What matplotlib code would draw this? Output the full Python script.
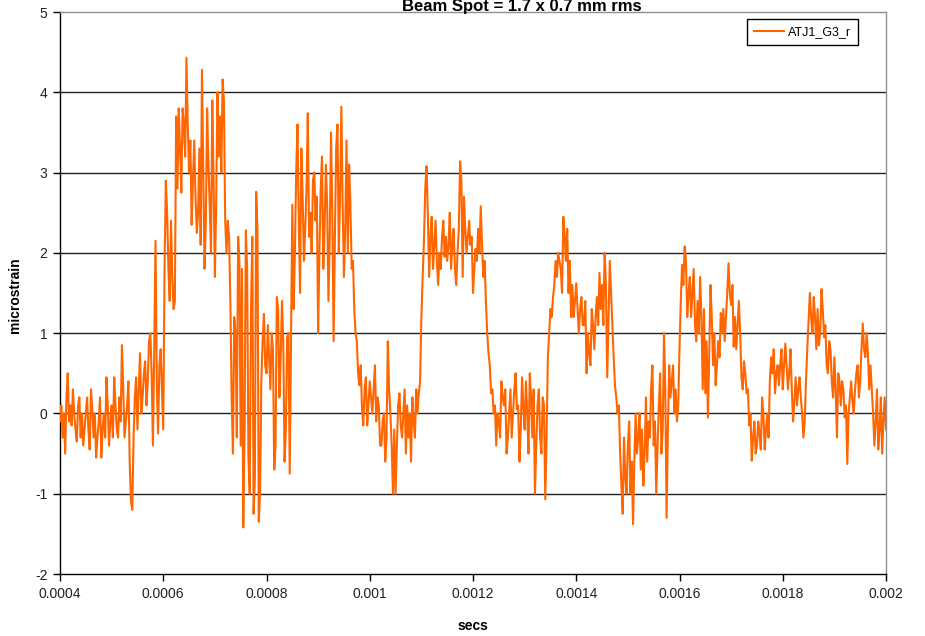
import numpy as np
import matplotlib
matplotlib.use("Agg")
import matplotlib.pyplot as plt
from matplotlib.ticker import FixedLocator, FixedFormatter

plt.rcParams['font.family'] = ['Liberation Sans', 'DejaVu Sans']

# ---- data ----
t_start = 0.0004     # secs, first sample
t_step = 2.5e-6      # secs between consecutive samples

# samples at even positions (every 5e-6 s)
seg1 = [-0.1, -0.3, -0.5, 0.5, 0.1, 0.3, -0.2, 0.1, -0.3, -0.4,
        0.0, -0.2, 0.3, -0.3, -0.55, -0.1, -0.55, 0.0, 0.45, -0.4,
        0.1, 0.45, -0.2, 0.2, 0.85, -0.3, 0.1, -0.6, -1.2, 0.2,
        -0.2, 0.75, 0.2, 0.65, 0.4, 1.0, -0.4, 2.15, -0.25, 0.8,
        -0.2, 2.9, 1.8, 2.4, 1.3, 3.7, 3.8, 2.75, 3.6, 4.43,
        3.0, 2.35, 3.4, 2.25, 3.3, 4.28, 1.8, 3.8, 2.6, 3.9,
        1.7, 4.0, 3.7, 4.16, 2.4, 2.4]
seg2 = [1.4, -0.5, 1.0, 2.2, -0.4, -1.42, 2.28, -0.55, 1.3, -1.25,
        2.76, -1.35, 0.4, 1.24, 0.5, 0.7, 1.0, -0.7, 1.45, 0.2,
        1.4, -0.6, 0.95, -0.75, 2.6, 2.0, 3.6, 1.5, 2.7, 2.3,
        3.74, 2.5, 2.9, 2.4, 1.0, 2.8, 1.8, 3.1, 1.4, 3.5,
        0.9, 3.3, 2.0, 3.82, 1.7, 3.4, 3.1, 1.8, 1.3, 0.9,
        0.35, 0.05, 0.3, -0.15, 0.4, 0.0, 0.6, 0.2, -0.4, -0.1,
        -0.6, 0.9, 0.0, -1.0]
seg3 = [-1.0, 0.1, -0.15, 0.0, -0.5, -0.3, -0.6, -0.1, 0.3, 0.25,
        1.2, 2.15, 3.08, 1.7, 2.45, 2.1, 1.9, 2.0, 2.2, 1.95,
        1.9, 2.5, 2.1, 1.8, 2.0, 3.14, 1.7, 2.3, 2.2, 2.1,
        1.5, 2.05, 2.3, 2.58, 1.7, 1.4, 0.75, 0.25, 0.0, -0.4,
        -0.1, 0.4, 0.1, -0.5, 0.0, -0.3, 0.3, 0.05, -0.6, 0.45,
        -0.2, 0.0, 0.5, -0.3, -1.0, 0.1, -0.3, 0.2, -1.07, 0.7,
        1.3, 1.45, 1.9, 2.0, 1.8]
seg4 = [2.45, 1.9, 1.5, 1.2, 1.2, 1.62, 1.0, 1.45, 1.1, 0.5,
        0.75, 1.3, 0.8, 1.45, 1.75, 1.6, 2.0, 0.45, 1.9, 1.1,
        0.35, 0.0, -0.5, -1.25, -0.8, -0.4, -1.0, -1.38, 0.0, -0.3,
        -0.7, -0.9, 0.2, -0.1, 0.3, -0.4, -1.0, 0.1, -0.5, 1.0,
        -1.3, 0.6, 0.4, 0.0, -0.1, 0.8, 1.85, 2.08, 1.2, 1.7,
        1.5, 1.1, 1.4, 1.7, 0.3, 0.25, -0.05, 1.6, 0.6, 0.35,
        0.9, 1.25, 1.3]
seg5 = [1.2, 1.87, 1.35, 0.83, 0.8, 1.4, 0.45, 0.65, 0.25, -0.15,
        -0.59, -0.1, -0.4, -0.25, 0.2, -0.45, 0.0, 0.4, 0.5, 0.25,
        0.6, 0.6, 0.3, 0.87, 0.3, 0.8, -0.1, 0.45, 0.3, 0.2,
        -0.3, 0.4, 1.16, 1.2, 1.45, 0.8, 0.85, 1.55, 0.95, 0.6,
        0.9, 0.4, 0.7, -0.3, 0.4, 0.4, -0.05, -0.63, 0.2, 0.15,
        0.3, 0.6, 0.4, 1.12, 0.7, 0.75, 0.6, 0.0, -0.1, -0.45,
        0.2, -0.1, -0.2]

# samples at odd positions (between the ones above)
mid1 = [0.1, 0.0, 0.2, -0.1, -0.15, 0.0, -0.35, 0.2, 0.0, -0.2,
        0.2, -0.45, 0.05, 0.0, -0.3, 0.2, -0.2, -0.3, 0.1, -0.1,
        -0.3, 0.1, -0.3, -0.1, 0.3, -0.1, 0.4, -1.1, -0.3, 0.45,
        0.3, 0.0, 0.5, 0.1, 0.9, 0.5, 0.8, 0.4, 0.6, 0.3,
        1.8, 2.5, 1.4, 1.7, 1.4, 2.8, 3.3, 3.8, 3.2, 3.6,
        3.4, 2.9, 2.7, 2.5, 2.1, 3.0, 2.4, 3.1, 2.0, 2.9,
        2.6, 3.2, 3.0, 3.9, 2.0, 2.2]
mid2 = [0.2, 1.2, -0.3, 1.9, 1.8, -0.2, 1.8, -1.0, 2.2, -0.8,
        2.3, -1.0, 0.9, 0.6, 1.1, 0.3, 0.8, -0.4, 1.3, 0.7,
        0.9, -0.2, 1.0, 0.9, 1.3, 3.0, 2.4, 3.3, 1.9, 2.8,
        2.2, 2.0, 3.0, 2.7, 2.0, 3.2, 2.3, 2.6, 2.2, 2.5,
        2.2, 3.6, 2.7, 2.6, 2.3, 2.0, 2.6, 1.9, 1.0, 0.5,
        0.6, -0.15, 0.45, 0.1, 0.2, 0.3, -0.1, 0.1, -0.4, 0.0,
        -0.3, 0.3, -0.4, -0.2]
mid3 = [-0.4, 0.25, -0.3, 0.3, 0.1, 0.0, 0.2, -0.3, 0.0, 0.4,
        1.7, 2.8, 2.5, 2.2, 1.8, 2.4, 1.6, 1.8, 2.4, 2.2,
        2.1, 1.8, 2.3, 1.6, 2.3, 2.9, 2.7, 2.0, 2.4, 2.2,
        1.8, 1.9, 2.0, 2.1, 1.9, 1.0, 0.6, 0.3, 0.1, 0.0,
        -0.3, 0.2, 0.3, -0.3, 0.3, 0.0, 0.5, 0.1, -0.2, 0.1,
        0.4, -0.5, 0.2, 0.3, -0.4, 0.3, -0.5, 0.1, -0.3, 1.0,
        1.2, 1.6, 1.7, 1.9, 1.5]
mid4 = [2.2, 2.3, 1.9, 1.6, 1.4, 1.3, 1.3, 1.1, 1.4, 1.0,
        0.6, 1.1, 1.2, 1.1, 1.3, 1.1, 1.6, 1.2, 1.5, 0.7,
        0.2, 0.1, -0.9, -0.3, -1.0, -0.1, -0.6, -0.6, -0.5, 0.0,
        -0.2, -0.5, -0.6, -0.3, 0.6, -0.1, -0.4, 0.5, -0.2, 0.3,
        -0.2, 0.2, 0.6, 0.3, 0.1, 1.4, 1.6, 1.9, 1.5, 1.2,
        1.8, 0.9, 1.0, 1.2, 1.3, 0.9, 0.7, 1.2, 1.0, 0.6,
        0.7, 1.0, 0.9]
mid5 = [1.5, 1.5, 1.6, 1.2, 1.1, 1.0, 0.3, 0.5, 0.3, 0.0,
        -0.3, -0.5, -0.1, -0.45, 0.0, -0.2, -0.3, 0.7, 0.8, 0.5,
        0.35, 0.8, 0.6, 0.6, 0.5, 0.3, 0.15, 0.1, 0.45, 0.0,
        -0.1, 0.8, 1.5, 1.0, 1.2, 1.3, 1.0, 1.3, 1.1, 0.5,
        0.8, 0.2, 0.3, 0.5, 0.1, 0.3, 0.1, 0.0, 0.4, 0.0,
        0.5, 0.2, 0.8, 0.8, 1.0, 0.3, 0.3, -0.4, 0.3, -0.2,
        -0.5, 0.2]

series_name = "ATJ1_G3_r"
x_ticks = [0.0004, 0.0006, 0.0008, 0.001, 0.0012, 0.0014, 0.0016, 0.0018, 0.002]
x_tick_labels = ["0.0004", "0.0006", "0.0008", "0.001", "0.0012",
                 "0.0014", "0.0016", "0.0018", "0.002"]
y_ticks = [-2, -1, 0, 1, 2, 3, 4, 5]
title_text = "Beam Spot = 1.7 x 0.7 mm rms"
x_label = "secs"
y_label = "microstrain"

main_vals = np.array(seg1 + seg2 + seg3 + seg4 + seg5)
mid_vals = np.array(mid1 + mid2 + mid3 + mid4 + mid5)
values = np.empty(len(main_vals) + len(mid_vals))
values[0::2] = main_vals
values[1::2] = mid_vals
times = t_start + t_step * np.arange(len(values))

# ---- figure ----
W, H = 925, 636
fig = plt.figure(figsize=(W / 100, H / 100), dpi=100)
fig.patch.set_facecolor('white')
ax = fig.add_axes([60 / W, 1 - 574 / H, (886 - 60) / W, (574 - 12) / H])

line_color = '#FF6600'
ax.plot(times, values, color=line_color, lw=1.5, label=series_name, zorder=3)

ax.set_xlim(0.0004, 0.002)
ax.set_ylim(-2, 5)
ax.xaxis.set_major_locator(FixedLocator(x_ticks))
ax.xaxis.set_major_formatter(FixedFormatter(x_tick_labels))
ax.set_yticks(y_ticks)
ax.set_yticklabels([str(v) for v in y_ticks])

for g in [-1, 0, 1, 2, 3, 4]:
    ax.axhline(g, color='#222222', lw=1.0, zorder=1)

ax.tick_params(axis='both', direction='out', length=5, width=1,
               color='black', labelsize=10, labelcolor='#222222', pad=4)
ax.spines['left'].set_color('black')
ax.spines['bottom'].set_color('black')
ax.spines['top'].set_color('#909090')
ax.spines['right'].set_color('#909090')
for s in ax.spines.values():
    s.set_linewidth(1.0)

leg = ax.legend(loc='upper right', bbox_to_anchor=(858 / W, 1 - 19 / H),
                bbox_transform=fig.transFigure, frameon=True, fancybox=False,
                framealpha=1, edgecolor='black', fontsize=9,
                handlelength=2.4, handletextpad=0.3, borderpad=0.55,
                borderaxespad=0)
leg.get_frame().set_linewidth(1.0)

fig.text(522 / W, 1 - 11 / H, title_text, ha='center', va='baseline',
         fontsize=12, fontweight='bold')
fig.text(473 / W, 1 - 626 / H, x_label, ha='center', va='center',
         fontsize=10, fontweight='bold')
fig.text(15 / W, 1 - 295 / H, y_label, ha='center', va='center',
         rotation=90, fontsize=10, fontweight='bold')

fig.savefig('out.png', dpi=100, facecolor='white')
